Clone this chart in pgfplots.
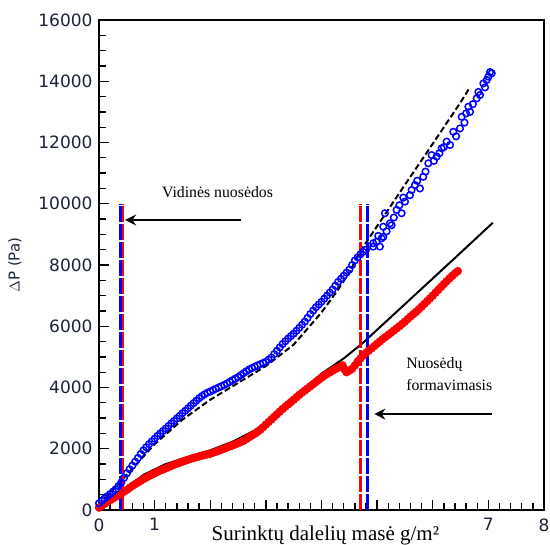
\documentclass[border=0pt]{standalone}
\usepackage{pgfplots}
\pgfplotsset{compat=1.18}
\usepackage{fontspec}
\setmainfont{Liberation Serif}
\newfontfamily\tickfont{DejaVu Sans}
\usetikzlibrary{arrows.meta}
\definecolor{tickcol}{RGB}{25,35,55}

\pgfplotstableread{
x y
0.00 80
0.05 140
0.10 200
0.15 260
0.20 320
0.25 375
0.30 430
0.35 485
0.40 540
0.45 600
0.50 660
0.55 725
0.60 790
0.65 845
0.70 900
0.75 955
0.80 1010
0.85 1060
0.90 1110
0.95 1155
1.00 1200
1.05 1245
1.10 1290
1.15 1325
1.20 1360
1.25 1400
1.30 1440
1.35 1475
1.40 1510
1.45 1545
1.50 1580
1.55 1610
1.60 1640
1.65 1670
1.70 1700
1.75 1725
1.80 1750
1.85 1775
1.90 1800
1.95 1820
2.00 1840
2.05 1870
2.10 1900
2.15 1935
2.20 1970
2.25 2005
2.30 2040
2.35 2075
2.40 2110
2.45 2145
2.50 2180
2.55 2220
2.60 2260
2.65 2320
2.70 2380
2.75 2435
2.80 2490
2.85 2555
2.90 2620
2.95 2700
3.00 2790
3.05 2875
3.10 2960
3.15 3045
3.20 3130
3.25 3215
3.30 3300
3.35 3375
3.40 3450
3.45 3525
3.50 3600
3.55 3680
3.60 3760
3.65 3830
3.70 3900
3.75 3970
3.80 4040
3.85 4110
3.90 4180
3.95 4250
4.00 4320
4.05 4380
4.10 4440
4.15 4495
4.20 4550
4.25 4600
4.30 4650
4.35 4690
4.38 4720
4.42 4580
4.45 4500
4.50 4550
4.55 4610
4.60 4720
4.65 4850
4.70 4950
4.75 5040
4.80 5130
4.85 5205
4.90 5280
4.95 5355
5.00 5430
5.05 5505
5.10 5580
5.15 5650
5.20 5720
5.25 5790
5.30 5860
5.35 5930
5.40 6000
5.45 6075
5.50 6150
5.55 6235
5.60 6320
5.65 6395
5.70 6470
5.75 6555
5.80 6640
5.85 6730
5.90 6820
5.95 6910
6.00 7000
6.05 7095
6.10 7190
6.15 7285
6.20 7380
6.25 7470
6.30 7560
6.35 7645
6.40 7730
6.45 7800
}\reddata

\pgfplotstableread{
x y
0.00 220
0.05 300
0.10 380
0.15 450
0.20 520
0.25 600
0.30 680
0.35 780
0.40 900
0.45 1050
0.50 1200
0.55 1330
0.60 1450
0.65 1580
0.70 1700
0.75 1830
0.80 1950
0.85 2050
0.90 2150
0.95 2240
1.00 2330
1.05 2420
1.10 2500
1.15 2580
1.20 2660
1.25 2745
1.30 2830
1.35 2910
1.40 2990
1.45 3075
1.50 3160
1.55 3240
1.60 3320
1.65 3405
1.70 3490
1.75 3570
1.80 3650
1.85 3720
1.90 3780
1.95 3830
2.00 3870
2.05 3915
2.10 3960
2.15 4000
2.20 4040
2.25 4085
2.30 4130
2.35 4185
2.40 4240
2.45 4290
2.50 4340
2.55 4405
2.60 4470
2.65 4530
2.70 4590
2.75 4635
2.80 4680
2.85 4720
2.90 4760
2.95 4800
3.00 4840
3.05 4910
3.10 4980
3.15 5090
3.20 5200
3.25 5310
3.30 5420
3.35 5510
3.40 5600
3.45 5680
3.50 5760
3.55 5855
3.60 5950
3.65 6050
3.70 6150
3.75 6275
3.80 6400
3.85 6510
3.90 6620
3.95 6710
4.00 6800
4.05 6900
4.10 7000
4.15 7100
4.20 7200
4.25 7325
4.30 7450
4.35 7550
4.40 7650
4.45 7750
4.50 7850
4.55 8000
4.60 8150
4.65 8250
4.70 8350
4.75 8430
4.80 8500
4.93 8600
4.93 8710
4.99 8760
5.02 8950
5.05 8600
5.08 8870
5.11 8920
5.11 9250
5.14 9690
5.17 9100
5.23 9360
5.26 9300
5.30 9550
5.35 9800
5.40 9950
5.44 9690
5.47 10200
5.50 10070
5.59 10280
5.62 10450
5.68 10610
5.72 10750
5.77 10500
5.83 10880
5.87 11050
5.92 11320
5.98 11590
6.02 11400
6.07 11540
6.12 11650
6.16 11810
6.20 11850
6.25 12030
6.31 11920
6.37 12350
6.42 12200
6.49 12460
6.52 12840
6.57 12650
6.60 12950
6.64 13170
6.67 13000
6.72 13250
6.79 13440
6.82 13650
6.85 13550
6.91 13930
6.94 13800
6.97 14040
7.00 14150
7.03 14300
7.06 14260
}\bluedata

\pgfplotstableread{
x y
0.0 100
0.4 600
0.8 1150
1.2 1500
1.6 1730
2.0 1950
2.4 2230
2.8 2600
3.2 3150
3.6 3830
4.0 4450
4.4 4950
4.74 5450
5.2 6220
5.6 6890
6.0 7560
6.5 8400
7.08 9380
}\redfit

\pgfplotstableread{
x y
0.0 150
0.5 1150
1.0 2150
1.5 2950
2.0 3600
2.5 4150
3.0 4700
3.5 5400
4.0 6450
4.3 7200
4.5 7750
4.68 8400
5.0 9270
5.5 10620
6.0 11960
6.5 13310
6.67 13810
}\bluefit

\begin{document}
\begin{tikzpicture}
\begin{axis}[
  scale only axis,
  width=445pt, height=490pt,
  xmin=0, xmax=8, ymin=0, ymax=16000,
  clip=false,
  axis line style={line width=1.5pt},
  xtick={0,1,2,3,4,5,6,7,8},
  xticklabels={0,1,,,,,,7,8},
  minor x tick num=4,
  ytick distance=2000,
  minor y tick num=3,
  scaled y ticks=false,
  xtick pos=bottom, ytick pos=left,
  tick align=inside,
  major tick length=10pt, minor tick length=7pt,
  every tick/.style={black, line width=1.3pt},
  /pgf/number format/assume math mode=true,
  /pgf/number format/1000 sep={},
  tick label style={font=\tickfont\fontsize{17}{20}\selectfont, text=tickcol},
  xticklabel style={yshift=-5pt},
  yticklabel style={xshift=-3pt},
  ylabel={$\Delta$P (Pa)},
  ylabel style={font=\tickfont\fontsize{15}{18}\selectfont, text=tickcol, at={(axis description cs:-0.189,0.5)}, anchor=center},
]
\coordinate (BL) at (rel axis cs:0,0);
\coordinate (TR) at (rel axis cs:1,1);
\addplot[only marks, mark=*, mark size=4pt, color=red, fill=red] table {\reddata};
\addplot[only marks, mark=o, mark size=3.3pt, color=blue, line width=1.5pt] table {\bluedata};
\addplot[black, line width=2pt] table {\redfit};
\addplot[black, line width=2pt, dash pattern=on 6pt off 3pt] table {\bluefit};
% vertical markers
\addplot[red, line width=3pt, dash pattern=on 16pt off 2pt] coordinates {(0.43,0) (0.43,10000)};
\addplot[blue, line width=3pt, dash pattern=on 16pt off 2pt] coordinates {(0.38,0) (0.38,10000)};
\addplot[red, line width=3pt, dash pattern=on 16pt off 2pt] coordinates {(4.71,0) (4.71,10000)};
\addplot[blue, line width=3pt, dash pattern=on 16pt off 2pt] coordinates {(4.82,0) (4.82,10000)};
% annotations
\draw[line width=1.5pt, -{Stealth[length=11pt,width=11pt]}] (axis cs:2.55,9469) -- (axis cs:0.47,9469);
\draw[line width=1.5pt, -{Stealth[length=11pt,width=11pt]}] (axis cs:7.07,3134) -- (axis cs:4.95,3134);
\node[anchor=base west, inner sep=0pt, font=\fontsize{15.8}{19}\selectfont] at (axis cs:1.13,10220) {Vidinės nuosėdos};
\node[anchor=base west, inner sep=0pt, font=\fontsize{15.8}{19}\selectfont] at (axis cs:5.52,4636) {Nuosėdų};
\node[anchor=base west, inner sep=0pt, font=\fontsize{15.8}{19}\selectfont] at (axis cs:5.52,3918) {formavimasis};
\node[anchor=base, inner sep=0pt, font=\fontsize{21}{25}\selectfont] at (axis cs:4.07,-980) {Surinktų dalelių masė g/m²};
\end{axis}
\pgfresetboundingbox
\path ([shift={(-99pt,-34pt)}]BL) rectangle ([shift={(6pt,20pt)}]TR);
\end{tikzpicture}
\end{document}
